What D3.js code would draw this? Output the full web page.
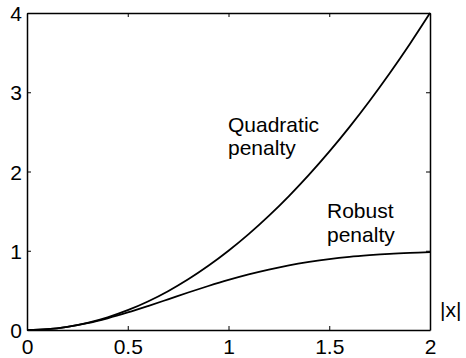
<!DOCTYPE html>
<html>
<head>
<meta charset="utf-8">
<script src="https://cdn.jsdelivr.net/npm/d3@7"></script>
<style>
  body { margin: 0; background: #fff; }
  svg text { font-family: "Liberation Sans", Arial, sans-serif; fill: #000; }
</style>
</head>
<body>
<svg id="chart" width="466" height="358"></svg>
<script>
// values
const xs = [0, 0.1, 0.2, 0.3, 0.4, 0.5, 0.6, 0.7, 0.8, 0.9, 1.0,
            1.1, 1.2, 1.3, 1.4, 1.5, 1.6, 1.7, 1.8, 1.9, 2.0];
const quadratic = [0, 0.01, 0.04, 0.09, 0.16, 0.25, 0.36, 0.49, 0.64, 0.81, 1.0,
                   1.21, 1.44, 1.69, 1.96, 2.25, 2.56, 2.89, 3.24, 3.61, 4.0];
const robust = [0, 0.01, 0.04, 0.086, 0.148, 0.221, 0.302, 0.387, 0.473, 0.555, 0.632,
                0.702, 0.763, 0.816, 0.859, 0.895, 0.923, 0.944, 0.961, 0.973, 0.982];
const xTicks = [0, 0.5, 1, 1.5, 2];
const yTicks = [0, 1, 2, 3, 4];

const svg = d3.select("#chart");
const plotL = 27, plotR = 430, plotT = 13, plotB = 330;

const x = d3.scaleLinear().domain([0, 2]).range([plotL, plotR]);
const y = d3.scaleLinear().domain([0, 4]).range([plotB, plotT]);

const fontSize = 21;

// axes with inward ticks on all four sides
const axB = svg.append("g").attr("transform", `translate(0,${plotB})`)
  .call(d3.axisBottom(x).tickValues(xTicks).tickSizeInner(-4).tickSizeOuter(0).tickPadding(9)
    .tickFormat(d3.format("")));
const axL = svg.append("g").attr("transform", `translate(${plotL},0)`)
  .call(d3.axisLeft(y).tickValues(yTicks).tickSizeInner(-4).tickSizeOuter(0).tickPadding(5)
    .tickFormat(d3.format("")));
const axT = svg.append("g").attr("transform", `translate(0,${plotT})`)
  .call(d3.axisTop(x).tickValues(xTicks).tickSizeInner(-4).tickSizeOuter(0).tickFormat(""));
const axR = svg.append("g").attr("transform", `translate(${plotR},0)`)
  .call(d3.axisRight(y).tickValues(yTicks).tickSizeInner(-4).tickSizeOuter(0).tickFormat(""));

[axB, axL, axT, axR].forEach(g => {
  g.select(".domain").attr("stroke", "#000").attr("stroke-width", 1.5);
  g.selectAll(".tick line").attr("stroke", "#000").attr("stroke-width", 1);
  g.selectAll(".tick text").attr("font-size", fontSize)
    .attr("font-family", "Liberation Sans, Arial, sans-serif").attr("fill", "#000");
});
axL.selectAll(".tick text").attr("dy", "0.36em");

const line = d3.line()
  .x((d, i) => x(xs[i]))
  .y(d => y(d))
  .curve(d3.curveCatmullRom);

[quadratic, robust].forEach(s => {
  svg.append("path").datum(s)
    .attr("d", line)
    .attr("fill", "none")
    .attr("stroke", "#000")
    .attr("stroke-width", 1.8);
});

const labels = [
  { t: "Quadratic", x: 228, y: 132 },
  { t: "penalty", x: 228, y: 155 },
  { t: "Robust", x: 327, y: 218 },
  { t: "penalty", x: 327, y: 242 },
  { t: "|x|", x: 440, y: 317 }
];
svg.selectAll("text.lbl").data(labels).join("text")
  .attr("class", "lbl")
  .attr("x", d => d.x)
  .attr("y", d => d.y)
  .attr("font-size", fontSize)
  .text(d => d.t);
</script>
</body>
</html>
